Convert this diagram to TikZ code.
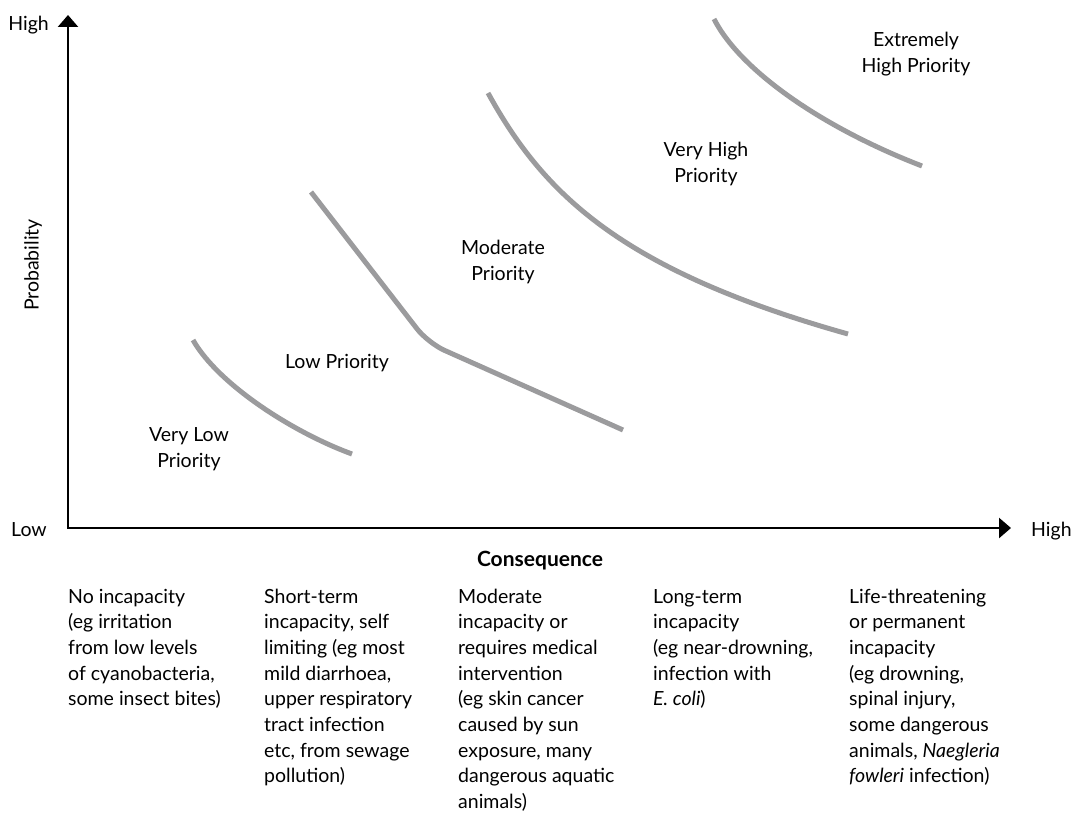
\documentclass[tikz,border=0pt]{standalone}
\usepackage{fontspec}
\setmainfont{Lato}
\usetikzlibrary{arrows.meta}
\definecolor{curvegray}{HTML}{9B9B9D}
\begin{document}
\begin{tikzpicture}[x=1pt,y=-1pt,
  lbl/.style={font=\fontsize{19.5}{26}\selectfont, inner sep=0pt},
  col/.style={font=\fontsize{19.5}{25.7}\selectfont, inner sep=0pt, anchor=base west},
  band/.style={draw=curvegray, line width=5pt},
  axis/.style={line width=2.5pt, line join=miter, {Triangle[length=12pt,width=20pt]}-{Triangle[length=12pt,width=20pt]}}]
\useasboundingbox (0,0) rectangle (1075,813);
% axes
\coordinate (ytop) at (68,15);
\coordinate (O) at (68,528);
\coordinate (xend) at (1011,528);
\draw[axis] (ytop) -- (O) -- (xend);
\node[lbl, anchor=base east] (yhigh) at (49,31) {High};
\node[lbl, anchor=base west] (ylow) at (11,536) {Low};
\node[lbl, anchor=base west] (xhigh) at (1031,536) {High};
\node[lbl, rotate=90] (prob) at (33,265) {Probability};
\node[lbl, anchor=base, font=\fontsize{21}{26}\selectfont\bfseries] (cons) at (540,566) {Consequence};
% curves
\draw[band] (193,340) .. controls (218,384) and (292,432) .. (352,454);
\draw[band, rounded corners=18pt] (311,192) -- (428,343) -- (623,430);
\draw[band] (488,93) .. controls (543,193) and (620,270) .. (848,334);
\draw[band] (714,19) .. controls (740,70) and (821,127) .. (922,166);
% priority labels
\node[lbl, anchor=base] (ehp) at (916,47) {\begin{tabular}[t]{@{}c@{}}Extremely\\High Priority\end{tabular}};
\node[lbl, anchor=base] (vhp) at (706,157) {\begin{tabular}[t]{@{}c@{}}Very High\\Priority\end{tabular}};
\node[lbl, anchor=base] (mp) at (503,254) {\begin{tabular}[t]{@{}c@{}}Moderate\\Priority\end{tabular}};
\node[lbl, anchor=base] (lp) at (337,368) {Low Priority};
\node[lbl, anchor=base] (vlp) at (189,441) {\begin{tabular}[t]{@{}c@{}}Very Low\\Priority\end{tabular}};
% consequence columns
\node[col] (c1) at (68,603) {\begin{tabular}[t]{@{}l@{}}No incapacity\\(eg irritation\\from low levels\\of cyanobacteria,\\some insect bites)\end{tabular}};
\node[col] (c2) at (264,603) {\begin{tabular}[t]{@{}l@{}}Short-term\\incapacity, self\\limiting (eg most\\mild diarrhoea,\\upper respiratory\\tract infection\\etc, from sewage\\pollution)\end{tabular}};
\node[col] (c3) at (458,603) {\begin{tabular}[t]{@{}l@{}}Moderate\\incapacity or\\requires medical\\intervention\\(eg skin cancer\\caused by sun\\exposure, many\\dangerous aquatic\\animals)\end{tabular}};
\node[col] (c4) at (653,603) {\begin{tabular}[t]{@{}l@{}}Long-term\\incapacity\\(eg near-drowning,\\infection with\\\textit{E. coli})\end{tabular}};
\node[col] (c5) at (849,603) {\begin{tabular}[t]{@{}l@{}}Life-threatening\\or permanent\\incapacity\\(eg drowning,\\spinal injury,\\some dangerous\\animals, \textit{Naegleria}\\\textit{fowleri} infection)\end{tabular}};
\end{tikzpicture}
\end{document}
